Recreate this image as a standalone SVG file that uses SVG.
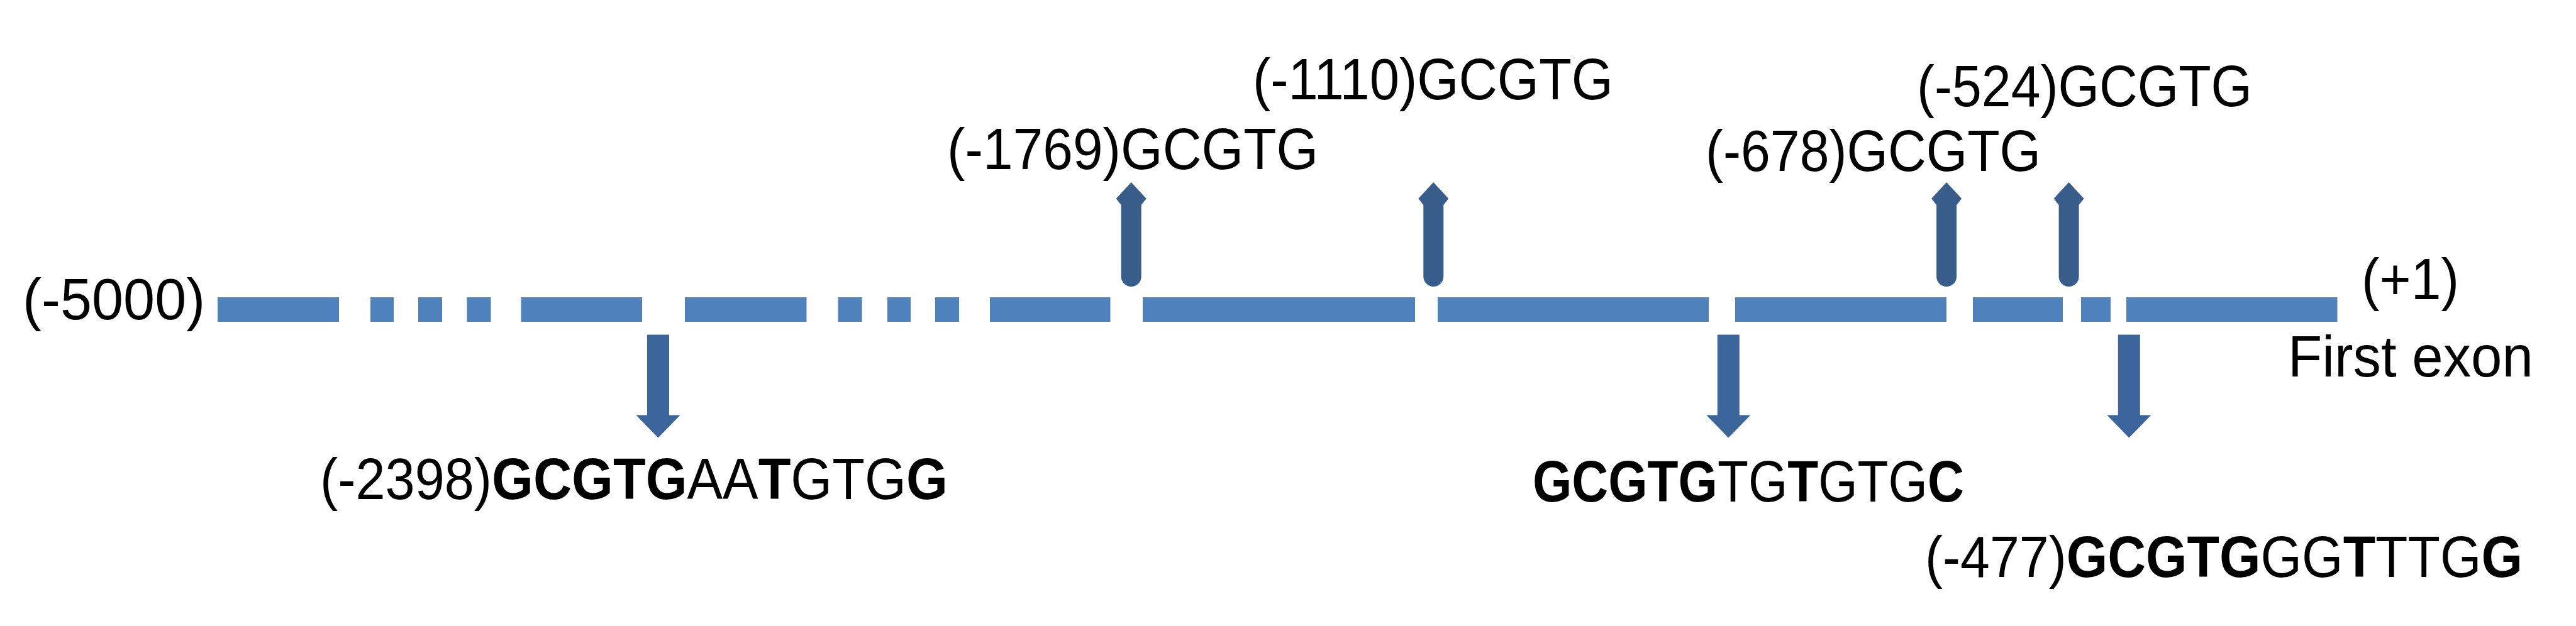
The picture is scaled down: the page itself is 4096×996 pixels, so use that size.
<svg xmlns="http://www.w3.org/2000/svg" width="4096" height="996" viewBox="0 0 4096 996">
<style>
.seg{fill:#4F81BD}
.up{fill:#385D8A}
.dn{fill:#3B659B}
.t{font-family:"Liberation Sans",Arial,sans-serif;font-size:93px;fill:#000}
.b{font-weight:bold}
</style>
<rect width="4096" height="996" fill="#fff"/>
<g id="promoter-line">
<rect class="seg" x="346" y="473" width="193" height="39"/>
<rect class="seg" x="589" y="473" width="37" height="39"/>
<rect class="seg" x="665" y="473" width="38" height="39"/>
<rect class="seg" x="742.5" y="473" width="38" height="39"/>
<rect class="seg" x="828.5" y="473" width="192.5" height="39"/>
<rect class="seg" x="1089" y="473" width="193.5" height="39"/>
<rect class="seg" x="1332.6" y="473" width="38" height="39"/>
<rect class="seg" x="1411" y="473" width="37" height="39"/>
<rect class="seg" x="1487" y="473" width="38" height="39"/>
<rect class="seg" x="1574" y="473" width="191.5" height="39"/>
<rect class="seg" x="1817" y="473" width="433" height="39"/>
<rect class="seg" x="2286" y="473" width="431" height="39"/>
<rect class="seg" x="2759" y="473" width="336" height="39"/>
<rect class="seg" x="3137" y="473" width="143" height="39"/>
<rect class="seg" x="3309" y="473" width="47" height="39"/>
<rect class="seg" x="3381" y="473" width="335.5" height="39"/>
</g>
<g id="connectors">
<path class="up" d="M1798.7,290 L1822.7,316 L1814.7,326 L1814.7,440 A16,16 0 0 1 1782.7,440 L1782.7,326 L1774.7,316 Z"/>
<path class="up" d="M2279.3,290 L2303.3,316 L2295.3,326 L2295.3,440 A16,16 0 0 1 2263.3,440 L2263.3,326 L2255.3,316 Z"/>
<path class="up" d="M3095.1,290 L3119.1,316 L3111.1,326 L3111.1,440 A16,16 0 0 1 3079.1,440 L3079.1,326 L3071.1,316 Z"/>
<path class="up" d="M3289.6,290 L3313.6,316 L3305.6,326 L3305.6,440 A16,16 0 0 1 3273.6,440 L3273.6,326 L3265.6,316 Z"/>
<path class="dn" d="M1029,532.5 L1064,532.5 L1064,660.5 L1081.5,660.5 L1046.5,696.6 L1011.5,660.5 L1029,660.5 Z"/>
<path class="dn" d="M2730.8,532.5 L2765.8,532.5 L2765.8,660.5 L2783.3,660.5 L2748.3,696.6 L2713.3,660.5 L2730.8,660.5 Z"/>
<path class="dn" d="M3367.8,532.5 L3402.8,532.5 L3402.8,660.5 L3420.3,660.5 L3385.3,696.6 L3350.3,660.5 L3367.8,660.5 Z"/>
</g>
<g id="label-start"><text class="t" transform="translate(36,508) scale(0.968,1)">(-5000)</text></g>
<g id="label-end"><text class="t" transform="translate(3755,476) scale(0.923,1)">(+1)</text>
<text class="t" transform="translate(3638,599) scale(0.955,1)">First exon</text></g>
<g id="site-1769"><text class="t" transform="translate(1506,269) scale(0.921,1)">(-1769)GCGTG</text></g>
<g id="site-1110"><text class="t" transform="translate(1992,158) scale(0.914,1)">(-1110)GCGTG</text></g>
<g id="site-678"><text class="t" transform="translate(2712,272) scale(0.905,1)">(-678)GCGTG</text></g>
<g id="site-524"><text class="t" transform="translate(3048,169) scale(0.905,1)">(-524)GCGTG</text></g>
<g id="site-2398"><text class="t" transform="translate(509,794) scale(0.911,1)">(-2398)<tspan class="b">GCGTG</tspan>AA<tspan class="b">T</tspan>GTG<tspan class="b">G</tspan></text></g>
<g id="site-mid"><text class="t" transform="translate(2437,798) scale(0.862,1)"><tspan class="b">GCGTG</tspan>TG<tspan class="b">T</tspan>GTG<tspan class="b">C</tspan></text></g>
<g id="site-477"><text class="t" transform="translate(3061,918) scale(0.906,1)">(-477)<tspan class="b">GCGTG</tspan>GG<tspan class="b">T</tspan>TTG<tspan class="b">G</tspan></text></g>
</svg>
